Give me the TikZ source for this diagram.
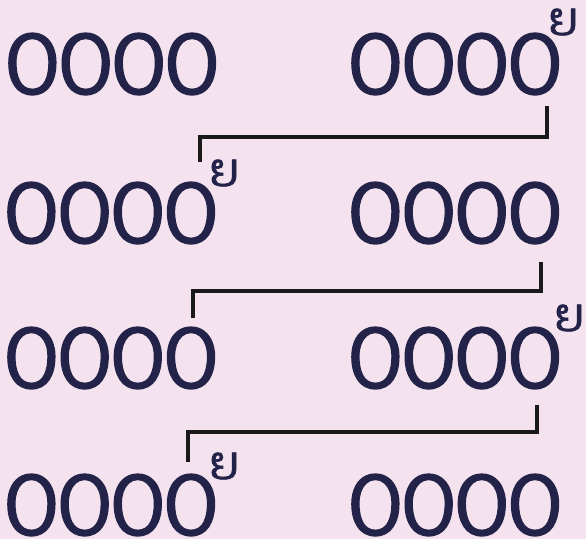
\documentclass[tikz,border=0pt]{standalone}
\usepackage{fontspec}
\newfontfamily\laofont[Script=Lao, FakeBold=1.3]{Dhyana}
\newfontfamily\laowide[Script=Lao, FakeBold=1.3, LetterSpace=-6]{Dhyana}
\definecolor{bgpink}{HTML}{F4E2EE}
\definecolor{inkblue}{HTML}{23234A}
\newcommand{\tallword}[1]{\scalebox{1}[1.13]{#1}}
\tikzset{
  word/.style={font=\laowide\fontsize{94}{94}\selectfont, text=inkblue, inner sep=0pt, anchor=center},
  supmark/.style={font=\laofont\fontsize{46}{46}\selectfont, text=inkblue, inner sep=0pt, anchor=center},
  conn/.style={line width=3.6pt, draw=black!90, line cap=butt, line join=miter}
}
\begin{document}
\begin{tikzpicture}[x=1pt,y=-1pt]
\fill[bgpink] (0,0) rectangle (586,539);
\useasboundingbox (0,0) rectangle (586,539);
% row 1
\node[word] (l1) at (112,64) {\tallword{໐໐໐໐}};
\node[word] (r1) at (455,64) {\tallword{໐໐໐໐}};
\node[supmark] (s1) at (563,22) {ຍ};
% row 2
\node[word] (l2) at (111,213) {\tallword{໐໐໐໐}};
\node[word] (r2) at (455,213) {\tallword{໐໐໐໐}};
\node[supmark] (s2) at (224,173) {ຍ};
% row 3
\node[word] (l3) at (111,358) {\tallword{໐໐໐໐}};
\node[word] (r3) at (455,358) {\tallword{໐໐໐໐}};
\node[supmark] (s3) at (569,318) {ຍ};
% row 4
\node[word] (l4) at (111,505) {\tallword{໐໐໐໐}};
\node[word] (r4) at (455,505) {\tallword{໐໐໐໐}};
\node[supmark] (s4) at (224,466) {ຍ};
% connectors
\coordinate (c1a) at (547,106);
\coordinate (c1m) at (200,137);
\coordinate (c1b) at (200,162);
\coordinate (c2a) at (541,262);
\coordinate (c2m) at (193,291);
\coordinate (c2b) at (193,318);
\coordinate (c3a) at (537,405);
\coordinate (c3m) at (188,432);
\coordinate (c3b) at (188,462);
\draw[conn] (c1a) |- (c1m) -- (c1b);
\draw[conn] (c2a) |- (c2m) -- (c2b);
\draw[conn] (c3a) |- (c3m) -- (c3b);
\end{tikzpicture}
\end{document}
